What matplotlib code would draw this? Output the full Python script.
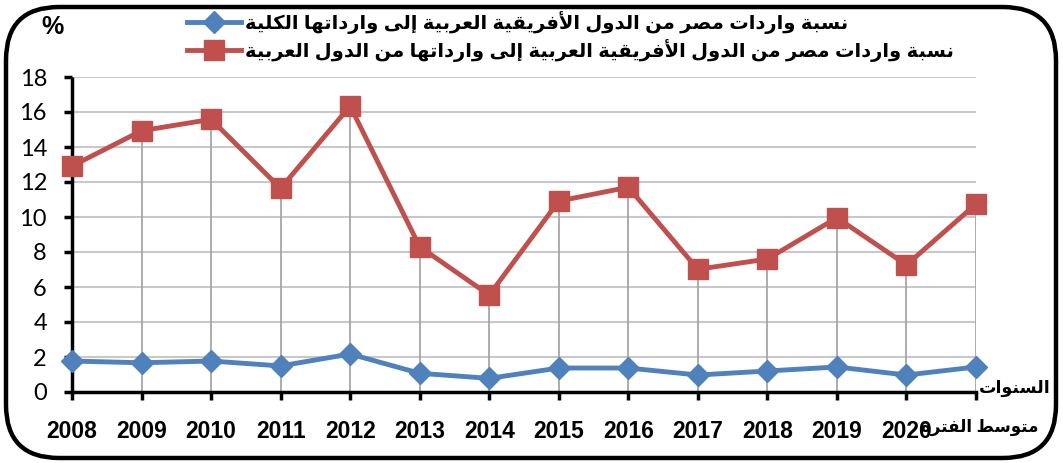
import matplotlib
matplotlib.use("Agg")
import matplotlib.pyplot as plt
from matplotlib.patches import FancyBboxPatch

# values (%)
years = ["2008", "2009", "2010", "2011", "2012", "2013", "2014",
         "2015", "2016", "2017", "2018", "2019", "2020"]
avg_label = "متوسط الفترة"
share_total = [1.77, 1.67, 1.77, 1.49, 2.17, 1.07, 0.78,
               1.37, 1.37, 0.97, 1.20, 1.43, 0.97, 1.43]
share_arab = [12.91, 14.93, 15.58, 11.64, 16.34, 8.30, 5.54,
              10.91, 11.70, 7.01, 7.60, 9.96, 7.26, 10.74]
y_ticks = [0, 2, 4, 6, 8, 10, 12, 14, 16, 18]
label_total = "نسبة واردات مصر من الدول الأفريقية العربية إلى وارداتها الكلية"
label_arab = "نسبة واردات مصر من الدول الأفريقية العربية إلى وارداتها من الدول العربية"
xlabel = "السنوات"


# small arabic shaper: matplotlib does no joining / right-to-left
FORMS = {
    "أ": "\uFE83\uFE84", "إ": "\uFE87\uFE88", "ا": "\uFE8D\uFE8E",
    "ب": "\uFE8F\uFE90\uFE91\uFE92", "ة": "\uFE93\uFE94",
    "ت": "\uFE95\uFE96\uFE97\uFE98", "د": "\uFEA9\uFEAA",
    "ر": "\uFEAD\uFEAE", "س": "\uFEB1\uFEB2\uFEB3\uFEB4",
    "ص": "\uFEB9\uFEBA\uFEBB\uFEBC", "ط": "\uFEC1\uFEC2\uFEC3\uFEC4",
    "ع": "\uFEC9\uFECA\uFECB\uFECC", "ف": "\uFED1\uFED2\uFED3\uFED4",
    "ق": "\uFED5\uFED6\uFED7\uFED8", "ك": "\uFED9\uFEDA\uFEDB\uFEDC",
    "ل": "\uFEDD\uFEDE\uFEDF\uFEE0", "م": "\uFEE1\uFEE2\uFEE3\uFEE4",
    "ن": "\uFEE5\uFEE6\uFEE7\uFEE8", "ه": "\uFEE9\uFEEA\uFEEB\uFEEC",
    "و": "\uFEED\uFEEE", "ى": "\uFEEF\uFEF0",
    "ي": "\uFEF1\uFEF2\uFEF3\uFEF4",
}
LAM_ALEF = {"أ": "\uFEF7\uFEF8", "إ": "\uFEF9\uFEFA", "ا": "\uFEFB\uFEFC"}


def shape(text):
    toks = []
    i = 0
    while i < len(text):
        if text[i] == "ل" and i + 1 < len(text) and text[i + 1] in LAM_ALEF:
            toks.append(("LA", text[i + 1]))
            i += 2
        else:
            toks.append(text[i])
            i += 1

    def is_letter(t):
        return isinstance(t, tuple) or t in FORMS

    def is_dual(t):
        return (not isinstance(t, tuple)) and t in FORMS and len(FORMS[t]) == 4

    out = []
    for j, t in enumerate(toks):
        prev = toks[j - 1] if j > 0 else None
        nxt = toks[j + 1] if j + 1 < len(toks) else None
        jp = prev is not None and is_dual(prev) and is_letter(t)
        jn = is_dual(t) and nxt is not None and is_letter(nxt)
        if isinstance(t, tuple):
            out.append(LAM_ALEF[t[1]][1 if jp else 0])
        elif t in FORMS:
            f = FORMS[t]
            if len(f) == 4:
                idx = {(False, False): 0, (True, False): 1,
                       (False, True): 2, (True, True): 3}[(jp, jn)]
            else:
                idx = 1 if jp else 0
            out.append(f[idx])
        else:
            out.append(t)
    return "".join(out)[::-1]


fam = ["Liberation Sans", "DejaVu Sans"]

fig = plt.figure(figsize=(10.63, 4.63), dpi=100)
ax = fig.add_axes([72 / 1063, 1 - 392 / 463, (976 - 72) / 1063, (392 - 77) / 463])
ax.set_frame_on(False)

x = list(range(len(share_arab)))

# horizontal gridlines and drop lines
ax.hlines(y_ticks[1:], 0, x[-1], color="#C8C8C8", lw=1.5, zorder=0)
ax.vlines(x, 0, share_arab, color="#A6A6A6", lw=1.3, zorder=1)
# axis lines
ax.plot([x[0], x[0]], [0, 18], color="black", lw=2.5, clip_on=False,
        zorder=2, solid_capstyle="butt")
ax.plot([x[0], x[-1]], [0, 0], color="black", lw=2.5, clip_on=False,
        zorder=2, solid_capstyle="projecting")

ax.plot(x, share_total, color="#4F81BD", lw=3.5, marker="D", ms=11,
        clip_on=False, zorder=3, label=shape(label_total))
ax.plot(x, share_arab, color="#C0504D", lw=3.5, marker="s", ms=14,
        clip_on=False, zorder=3, label=shape(label_arab))

ax.set_xlim(0, len(x) - 1)
ax.set_ylim(0, 18)
ax.set_yticks(y_ticks)
ax.set_xticks(x)
ax.set_xticklabels(years + [""], fontsize=16.5, fontweight="bold", family=fam)
for lab in ax.get_yticklabels():
    lab.set_family("Lato")
    lab.set_fontsize(17)

# last category label is narrower arabic text, placed under its tick
ax.annotate(shape(avg_label), xy=(x[-1], 0), xycoords=("data", "axes fraction"),
            xytext=(4, -35), textcoords="offset pixels", ha="center",
            va="center", fontsize=12, fontweight="bold", family=fam)

ax.tick_params(axis="y", length=6, width=2.5, pad=12)
ax.tick_params(axis="x", length=6, width=2.5, pad=14)

fig.text(53 / 1063, 1 - 27 / 463, "%", fontsize=18, fontweight="bold",
         ha="center", va="center", family=fam)
fig.text(1015 / 1063, 1 - 388 / 463, shape(xlabel), fontsize=12.5,
         fontweight="bold", ha="center", va="center", family=fam)

fig.legend(loc="upper left", bbox_to_anchor=(187 / 1063, 1 - 11 / 463),
           frameon=False, borderpad=0, borderaxespad=0, handlelength=2.8,
           handletextpad=0.2, labelspacing=0.25,
           prop={"family": fam, "weight": "bold", "size": 14})

frame = FancyBboxPatch((6 / 1063, 5 / 463), 1050 / 1063, 451 / 463,
                       boxstyle="round,pad=0,rounding_size=0.05",
                       transform=fig.transFigure, fill=False,
                       ec="black", lw=3.2, mutation_aspect=1063 / 463)
fig.patches.append(frame)

fig.savefig("out.png", dpi=100)
